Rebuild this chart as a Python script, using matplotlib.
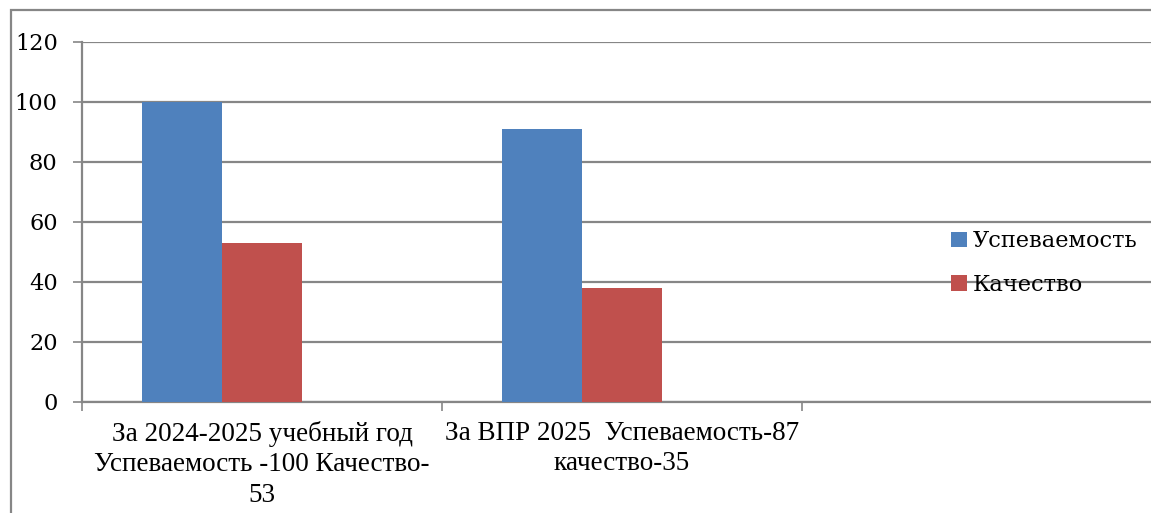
import matplotlib
matplotlib.use("Agg")
import matplotlib.pyplot as plt
from matplotlib.patches import Rectangle
import numpy as np

categories = ["За 2024-2025 учебный год\nУспеваемость -100 Качество-\n53",
              "За ВПР 2025  Успеваемость-87\nкачество-35"]
series_names = ["Успеваемость", "Качество"]
uspevaemost = [100, 91]
kachestvo = [53, 38]
yticks = [0, 20, 40, 60, 80, 100, 120]

W, H = 1151, 513
fig = plt.figure(figsize=(W / 100, H / 100), dpi=100)
grid_c = "#868686"

left, right = 82, W
top, bottom = 42, 402
ax = fig.add_axes([left / W, 1 - bottom / H, (right - left) / W, (bottom - top) / H])

cat_px = 360.0
ax.set_xlim(0, (right - left) / cat_px)
ax.set_ylim(0, 120)

bw = 80 / cat_px
off = 60 / cat_px
x = np.arange(len(categories))
ax.bar(x + off, uspevaemost, width=bw, align="edge", color="#4F81BD", label=series_names[0], zorder=3)
ax.bar(x + off + bw, kachestvo, width=bw, align="edge", color="#C0504D", label=series_names[1], zorder=3)

ax.set_yticks(yticks)
ax.set_yticklabels([str(v) for v in yticks], fontfamily="DejaVu Serif", fontsize=16.2)
ax.yaxis.grid(True, color=grid_c, linewidth=1.6, zorder=0)
ax.set_axisbelow(True)

ax.set_xticks(np.arange(len(categories) + 1))
ax.set_xticklabels([])
for i, lab in enumerate(categories):
    ax.text(i + 0.5, -0.052, lab, transform=ax.get_xaxis_transform(), ha="center", va="top",
            fontfamily="Liberation Serif", fontsize=19.5, linespacing=1.3, multialignment="center")
ax.tick_params(axis="x", which="major", length=6.5, width=1.2, color=grid_c, direction="out")
ax.tick_params(axis="y", length=6.5, width=1.2, color=grid_c, pad=11)

for s in ["top", "right"]:
    ax.spines[s].set_visible(False)
for s in ["left", "bottom"]:
    ax.spines[s].set_color(grid_c)
    ax.spines[s].set_linewidth(1.6)

leg = ax.legend(loc="center left", bbox_to_anchor=(931 / W, 1 - 263 / H),
                bbox_transform=fig.transFigure, frameon=False,
                prop={"family": "DejaVu Serif", "size": 16.2},
                handlelength=0.7, handleheight=0.7, handletextpad=0.25, labelspacing=0.95)

fig.patches.append(Rectangle((10.5 / W, -0.2), 1.5, 1.2 - 9.5 / H, transform=fig.transFigure,
                             fill=False, edgecolor=grid_c, linewidth=1.6))

fig.savefig("out.png", dpi=100)
